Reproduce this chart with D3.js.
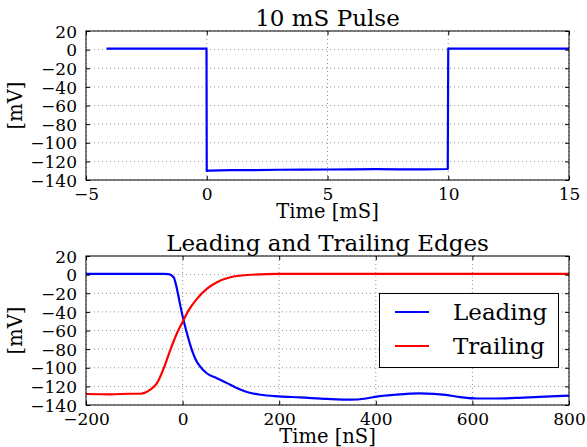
<!DOCTYPE html>
<html>
<head>
<meta charset="utf-8">
<script src="https://cdn.jsdelivr.net/npm/d3@7"></script>
<style>
  html, body { margin: 0; padding: 0; background: #fff; }
  svg { display: block; }
  text { font-family: "DejaVu Serif", serif; fill: #000; }
</style>
</head>
<body>
<svg id="chart" width="587" height="447"></svg>
<script>
// ---- Data ----
const pulseTitle = "10 mS Pulse";
const pulseXLabel = "Time [mS]";
const pulseTime =    [-4.15, -0.01, 0.0,   0.1,    1.0,    2.0,    3.0,    4.0,    5.0,    6.0,    7.0,    8.0,    9.0,    9.98,   10.0, 12.0, 15.0];
const pulseVoltage = [1.0,   1.0,  -130.3, -129.9, -129.5, -129.3, -129.0, -128.9, -128.7, -128.6, -128.4, -128.5, -128.5, -128.2, 1.0,  1.0,  1.0];
const pulseXTicks = [-5, 0, 5, 10, 15];

const edgesTitle = "Leading and Trailing Edges";
const edgesXLabel = "Time [nS]";
const leadingTime =   [-200, -100, -40, -29, -18.6, -11.7, -4.8, 2, 9, 16, 26, 36.5, 50, 71, 92, 112, 133, 161, 200, 243, 300, 347, 380, 402, 440, 491, 520, 545, 575, 609, 650, 705, 750, 800];
const leadingValues = [0.7, 0.8, 0.8, 0.5, -2.8, -15.3, -33, -49, -63, -75.7, -90, -98.8, -105.9, -111.2, -116.5, -121.8, -126, -129, -130.7, -131.8, -133.5, -134.3, -133, -131, -129, -127.5, -128, -129.2, -131.5, -133, -133, -132, -131, -130];
const trailingTime =   [-200, -150, -108, -87.6, -67, -53, -39, -25.5, -11.7, 0, 12.4, 29.7, 50, 71, 98.6, 133, 200, 400, 600, 800];
const trailingValues = [-128.2, -128.5, -127.9, -127.9, -123.6, -116.5, -100.5, -81, -63, -50.8, -38.4, -26, -15.3, -8.2, -2.8, -0.4, 0.7, 0.8, 0.7, 0.8];
const edgesXTicks = [-200, 0, 200, 400, 600, 800];

const yLabel = "[mV]";
const yTicks = [20, 0, -20, -40, -60, -80, -100, -120, -140];
const seriesNames = ["Leading", "Trailing"];
const seriesColors = ["#0000ff", "#ff0000"];

// ---- Layout ----
const svg = d3.select("#chart");
const left = 86, right = 569;

function panel(top, bottom, xDomain, xTicks, title, xLabel, series) {
  const x = d3.scaleLinear().domain(xDomain).range([left, right]);
  const y = d3.scaleLinear().domain([-140, 20]).range([bottom, top]);
  const g = svg.append("g");

  // grid
  const grid = g.append("g").attr("stroke", "#777").attr("stroke-width", 0.8).attr("stroke-dasharray", "1,3");
  xTicks.forEach(t => grid.append("line").attr("x1", x(t)).attr("x2", x(t)).attr("y1", top).attr("y2", bottom));
  yTicks.forEach(t => grid.append("line").attr("x1", left).attr("x2", right).attr("y1", y(t)).attr("y2", y(t)));

  // lines
  const clipId = "clip" + top;
  svg.append("clipPath").attr("id", clipId).append("rect")
    .attr("x", left).attr("y", top).attr("width", right - left).attr("height", bottom - top);
  series.forEach(s => {
    const pts = s.xs.map((v, i) => [v, s.ys[i]]);
    g.append("path")
      .attr("clip-path", `url(#${clipId})`)
      .attr("d", d3.line().x(d => x(d[0])).y(d => y(d[1])).curve(s.curve || d3.curveLinear)(pts))
      .attr("fill", "none").attr("stroke", s.color).attr("stroke-width", 2.2)
      .attr("stroke-linejoin", "round");
  });

  // axes (ticks inward)
  const fs = 17;
  const ax = g.append("g").attr("transform", `translate(0,${bottom})`)
    .call(d3.axisBottom(x).tickValues(xTicks).tickSizeInner(-4).tickSizeOuter(0).tickPadding(8)
      .tickFormat(d => d3.format("d")(d).replace("-", "\u2212")));
  const axTop = g.append("g").attr("transform", `translate(0,${top})`)
    .call(d3.axisTop(x).tickValues(xTicks).tickSizeInner(-4).tickSizeOuter(0).tickFormat(""));
  const ay = g.append("g").attr("transform", `translate(${left},0)`)
    .call(d3.axisLeft(y).tickValues(yTicks).tickSizeInner(-4).tickSizeOuter(0).tickPadding(9)
      .tickFormat(d => d3.format("d")(d).replace("-", "\u2212")));
  const ayR = g.append("g").attr("transform", `translate(${right},0)`)
    .call(d3.axisRight(y).tickValues(yTicks).tickSizeInner(-4).tickSizeOuter(0).tickFormat(""));
  [ax, axTop, ay, ayR].forEach(a => {
    a.select(".domain").remove();
    a.selectAll("line").attr("stroke", "#000").attr("stroke-width", 1);
    a.selectAll("text").style("font-family", "DejaVu Serif").style("font-size", fs + "px").attr("fill", "#000");
  });
  ax.selectAll("text").attr("dy", null).attr("y", null).attr("dominant-baseline", null)
    .attr("transform", `translate(0,${20})`);
  ay.selectAll("text").attr("dy", "0.36em");

  // frame
  g.append("rect").attr("x", left).attr("y", top).attr("width", right - left).attr("height", bottom - top)
    .attr("fill", "none").attr("stroke", "#000").attr("stroke-width", 1);

  // title
  g.append("text").attr("x", (left + right) / 2).attr("y", top - 5).attr("text-anchor", "middle")
    .style("font-size", "23px").text(title);
  // x label
  g.append("text").attr("x", (left + right) / 2).attr("y", bottom + 37.5).attr("text-anchor", "middle")
    .style("font-size", "19.5px").text(xLabel);
  // y label
  g.append("text").attr("transform", `translate(${22},${(top + bottom) / 2}) rotate(-90)`)
    .attr("text-anchor", "middle").style("font-size", "19.5px").text(yLabel);
  return { x, y, g };
}

panel(31, 180, [-5, 15], pulseXTicks, pulseTitle, pulseXLabel,
  [{ xs: pulseTime, ys: pulseVoltage, color: seriesColors[0] }]);

const p2 = panel(256, 405, [-200, 800], edgesXTicks, edgesTitle, edgesXLabel, [
  { xs: leadingTime, ys: leadingValues, color: seriesColors[0], curve: d3.curveMonotoneX },
  { xs: trailingTime, ys: trailingValues, color: seriesColors[1], curve: d3.curveMonotoneX }
]);

// legend
const lg = p2.g.append("g");
lg.append("rect").attr("x", 379.5).attr("y", 293.5).attr("width", 179).attr("height", 74)
  .attr("fill", "#fff").attr("stroke", "#000").attr("stroke-width", 1);
seriesNames.forEach((name, i) => {
  const yy = 312 + i * 34;
  lg.append("line").attr("x1", 395).attr("x2", 429).attr("y1", yy).attr("y2", yy)
    .attr("stroke", seriesColors[i]).attr("stroke-width", 2.2);
  lg.append("text").attr("x", 453).attr("y", yy + 8).style("font-size", "23px").text(name);
});
</script>
</body>
</html>
